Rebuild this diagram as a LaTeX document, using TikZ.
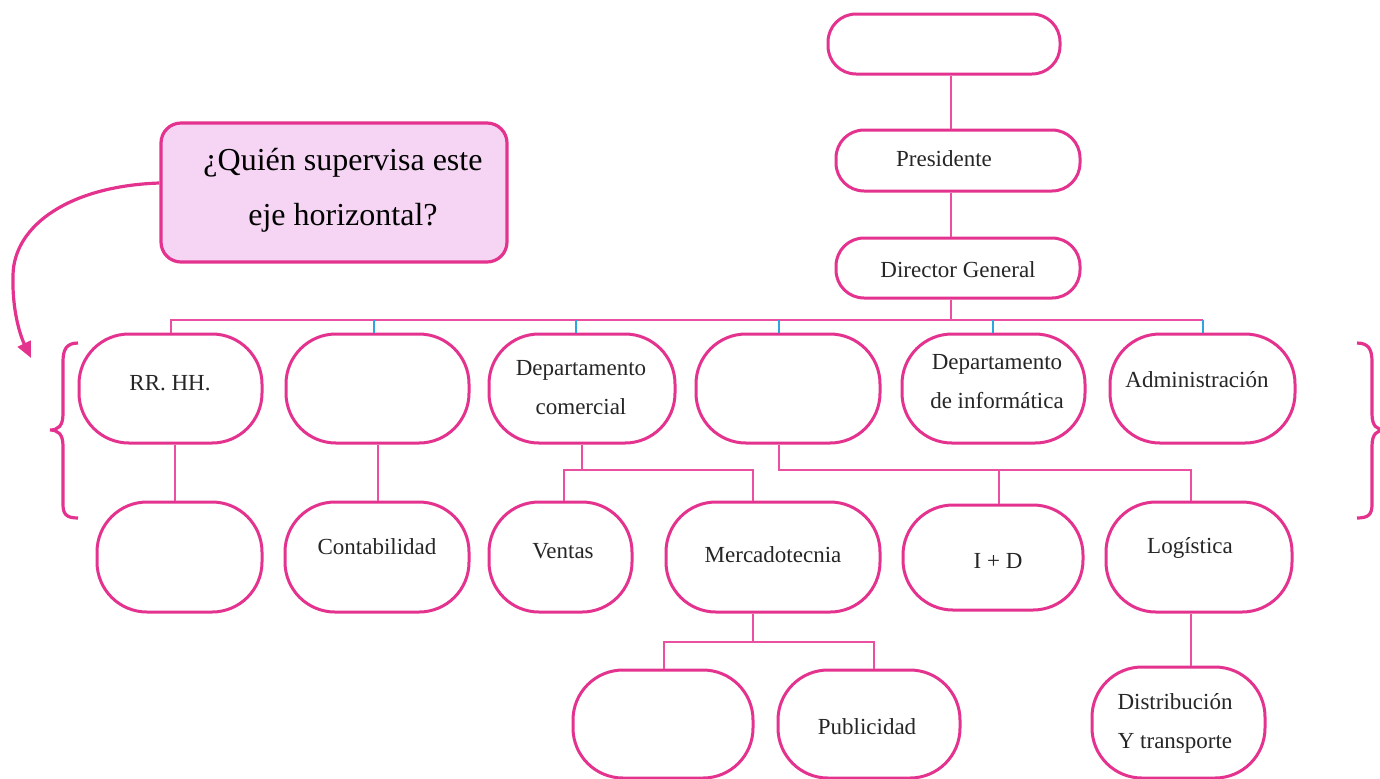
\documentclass[tikz,border=0pt]{standalone}
\usepackage{fontspec}
\setmainfont{Liberation Serif}
\usetikzlibrary{fit,arrows.meta}
\definecolor{pinkb}{HTML}{E4338E}
\definecolor{pinkc}{HTML}{EA4FA0}
\definecolor{bluet}{HTML}{2BA6DE}
\definecolor{callfill}{HTML}{F6D4F4}
\tikzset{
  pill/.style={draw=pinkb, line width=1.5pt, fill=white, inner sep=0pt, rounded corners=25pt},
  pillsm/.style={pill, rounded corners=14pt},
  conn/.style={draw=pinkc, line width=1pt},
  tickln/.style={draw=bluet, line width=1pt},
  lbl/.style={font=\fontsize{11.5}{19.5}\selectfont, align=center, inner sep=0pt, text=black!85},
  callbox/.style={draw=pinkb, line width=1.6pt, fill=callfill, rounded corners=10pt, inner sep=0pt},
  calltxt/.style={font=\fontsize{16}{27.5}\selectfont, align=center, inner sep=0pt},
  bracestroke/.style={draw=pinkb, line width=1.6pt},
  callarrow/.style={draw=pinkb, line width=1.6pt, -{Triangle[length=8pt,width=7pt]}}
}
\begin{document}
\begin{tikzpicture}[x=0.5pt, y=-0.5pt]
\useasboundingbox (0,0) rectangle (1380,778);

% top of the chart
\node[pillsm, fit={(828,14) (1060,74)}] (top) {};
\node[pillsm, fit={(836,130) (1080,191)}] (pres) {};
\node[pillsm, fit={(836,238) (1080,298)}] (dg) {};
\node[lbl] at (944,159) {Presidente};
\node[lbl] at (958,270) {Director General};

% first row of departments
\node[pill, fit={(79,334) (262,443)}] (rrhh) {};
\node[pill, fit={(286,334) (469,443)}] (b2) {};
\node[pill, fit={(489,334) (675,443)}] (com) {};
\node[pill, fit={(696,334) (880,443)}] (b4) {};
\node[pill, fit={(902,334) (1085,443)}] (inf) {};
\node[pill, fit={(1110,334) (1295,443)}] (adm) {};
\node[lbl] at (170,383) {RR. HH.};
\node[lbl] at (581,388) {Departamento\\comercial};
\node[lbl] at (997,382) {Departamento\\de informática};
\node[lbl] at (1197,380) {Administración};

% second row
\node[pill, fit={(97,502) (262,612)}] (r2a) {};
\node[pill, fit={(285,502) (469,612)}] (cont) {};
\node[pill, fit={(489,502) (632,612)}] (ven) {};
\node[pill, fit={(666,502) (880,612)}] (mer) {};
\node[pill, fit={(903,505) (1083,610)}] (id) {};
\node[pill, fit={(1106,502) (1292,612)}] (log) {};
\node[lbl] at (377,547) {Contabilidad};
\node[lbl] at (563,551) {Ventas};
\node[lbl] at (773,555) {Mercadotecnia};
\node[lbl] at (998,561) {I + D};
\node[lbl] at (1190,548) {Logística};

% third row
\node[pill, fit={(573,670) (753,778)}] (e3) {};
\node[pill, fit={(778,670) (960,778)}] (pub) {};
\node[pill, fit={(1092,667) (1265,778)}] (dist) {};
\node[lbl] at (867,727) {Publicidad};
\node[lbl] at (1175,723) {Distribución\\Y transporte};

% connector geometry
\coordinate (spine) at (951,0);
\coordinate (bus) at (0,320);
\coordinate (t2) at (374,320);
\coordinate (t3) at (576,320);
\coordinate (t4) at (779,320);
\coordinate (t5) at (993,320);
\coordinate (t6) at (1203,320);
\coordinate (v1) at (175,0);
\coordinate (dv) at (564,470);
\coordinate (dm) at (753,470);
\coordinate (j4) at (779,470);
\coordinate (di) at (999,470);
\coordinate (dl) at (1191,470);
\coordinate (dp1) at (664,642);
\coordinate (dp2) at (874,642);

% vertical spine and horizontal bus
\draw[conn] (top.south -| spine) -- (pres.north -| spine);
\draw[conn] (pres.south -| spine) -- (dg.north -| spine);
\draw[conn] (dg.south -| spine) -- (spine |- bus);
\draw[conn] (rrhh.north) |- (t6);
\foreach \t/\b in {t2/b2, t3/com, t4/b4, t5/inf, t6/adm}
  \draw[tickln] (\t) -- (\t |- \b.north);

% links to the second row
\draw[conn] (rrhh.south -| v1) -- (r2a.north -| v1);
\draw[conn] (b2.south) -- (b2.south |- cont.north);
\draw[conn] (com.south) -- (com.south |- dv);
\draw[conn] (ven.north -| dv) -- (dv) -- (dm) -- (mer.north -| dm);
\draw[conn] (b4.south -| j4) -- (j4) -- (dl) -- (log.north -| dl);
\draw[conn] (di) -- (id.north -| di);

% links to the third row
\draw[conn] (mer.south -| dm) -- (dm |- dp1);
\draw[conn] (e3.north -| dp1) -- (dp1) -- (dp2) -- (pub.north -| dp2);
\draw[conn] (log.south -| dl) -- (dist.north -| dl);

% braces around the horizontal axis
\draw[bracestroke] (78,343) .. controls (66,343) and (63,350) .. (63,362) -- (63,414)
  .. controls (63,426) and (58,430) .. (50,430) .. controls (58,430) and (63,434) .. (63,446)
  -- (63,504) .. controls (63,514) and (66,518) .. (78,518);
\draw[bracestroke] (1357,343) .. controls (1369,343) and (1372,350) .. (1372,362) -- (1372,414)
  .. controls (1372,426) and (1377,430) .. (1385,430) .. controls (1377,430) and (1372,434) .. (1372,446)
  -- (1372,504) .. controls (1372,514) and (1369,518) .. (1357,518);

% question callout
\node[callbox, fit={(161,123) (507,262)}] (call) {};
\node[calltxt] at (343,190) {¿Quién supervisa este\\eje horizontal?};
\coordinate (tipA) at (31,358);
\draw[callarrow] ([yshift=4.75pt]call.west) .. controls (70,186) and (14,225) .. (13,275)
  .. controls (12,310) and (20,335) .. (tipA);
\end{tikzpicture}
\end{document}
